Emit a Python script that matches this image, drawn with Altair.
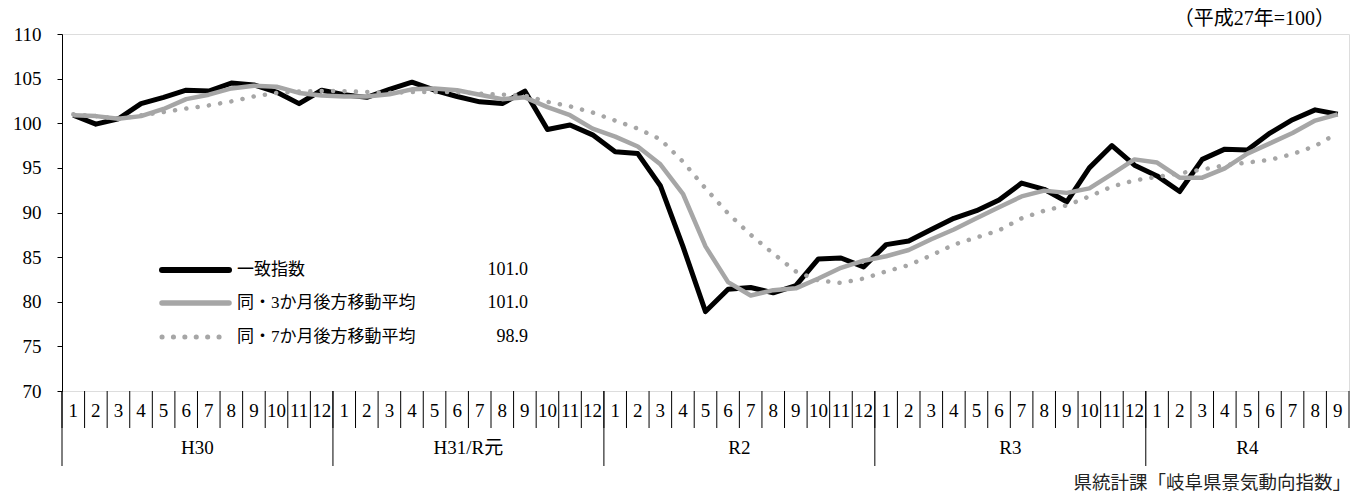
import altair as alt
import pandas as pd

# ---------------- data ----------------
years = ["H30", "H31/R元", "R2", "R3", "R4"]
year_months = [12, 12, 12, 12, 9]

coincident = [100.9, 99.9, 100.5, 102.2, 102.9, 103.7, 103.6, 104.5, 104.3, 103.5, 102.2, 103.7,
              103.2, 102.9, 103.8, 104.6, 103.7, 103.0, 102.4, 102.2, 103.6, 99.3, 99.8, 98.7,
              96.8, 96.6, 93.0, 86.2, 78.9, 81.4, 81.6, 81.0, 81.8, 84.8, 84.9, 83.9,
              86.4, 86.8, 88.1, 89.35, 90.2, 91.4, 93.3, 92.6, 91.2, 95.0, 97.5, 95.3,
              94.1, 92.35, 95.95, 97.1, 97.0, 98.9, 100.4, 101.5, 101.0]

ma3 = [100.9, 100.8, 100.5, 100.8, 101.6, 102.7, 103.2, 103.9, 104.2, 104.1, 103.4, 103.1,
       103.0, 103.0, 103.25, 103.8, 103.9, 103.7, 103.2, 102.7, 102.9, 101.8, 100.9, 99.4,
       98.5, 97.4, 95.4, 92.1, 86.2, 82.2, 80.7, 81.3, 81.5, 82.6, 83.8, 84.6,
       85.1, 85.8, 87.0, 88.1, 89.35, 90.6, 91.8, 92.45, 92.2, 92.7, 94.3, 95.95,
       95.6, 93.9, 93.9, 94.95, 96.6, 97.75, 98.9, 100.3, 101.0]

ma7 = [101.0, 100.8, 100.5, 100.9, 101.25, 101.65, 102.0, 102.45, 103.0, 103.4, 103.55, 103.6,
       103.6, 103.5, 103.4, 103.5, 103.5, 103.5, 103.3, 103.2, 103.1, 102.4, 101.9, 101.2,
       100.3, 99.4, 98.2, 95.7, 92.7, 89.9, 87.5, 85.4, 83.4, 82.4, 82.1, 82.6,
       83.4, 84.1, 85.2, 86.4, 87.2, 88.0, 89.35, 90.2, 90.8, 91.8, 92.9, 93.6,
       94.0, 94.4, 94.8, 95.3, 95.6, 95.9, 96.55, 97.45, 98.9]

series_names = ["一致指数", "同・3か月後方移動平均", "同・7か月後方移動平均"]
latest_values = [101.0, 101.0, 98.9]
base_note = "（平成27年=100）"
source_note = "県統計課「岐阜県景気動向指数」"

# ---------------- tables ----------------
month_labels = [str(m) for n in year_months for m in range(1, n + 1)]
N = len(month_labels)

long_rows = []
for name, vals in zip(series_names, [coincident, ma3, ma7]):
    for i, v in enumerate(vals):
        long_rows.append({"idx": i, "series": name, "value": v})
long_df = pd.DataFrame(long_rows)

month_df = pd.DataFrame({"idx": list(range(N)), "label": month_labels})
bound_df = pd.DataFrame({"b": list(range(N + 1))})
starts = [sum(year_months[:k]) for k in range(len(years))]
year_df = pd.DataFrame({"year": years, "start": starts, "len": year_months})
legend_df = pd.DataFrame({"name": series_names, "latest": latest_values})

# ---------------- styles ----------------
SERIF = "'Liberation Serif', 'DejaVu Serif', 'Noto Sans CJK JP', serif"
SANS = "'Noto Sans CJK JP', sans-serif"
GRAY = "#A6A6A6"
W, H = 1287, 357

xscale = alt.Scale(domain=[0, N], nice=False, zero=False)
yscale = alt.Scale(domain=[70, 110], nice=False, zero=False)
yaxis = alt.Axis(values=list(range(70, 111, 5)), tickSize=5, labelPadding=16,
                 labelFontSize=19, labelFont=SERIF, labelColor="black",
                 domainColor="black", tickColor="black", grid=False, title=None)

X = alt.X("pos:Q", scale=xscale, axis=None)
Y = alt.Y("value:Q", scale=yscale, axis=yaxis)

def series_line(name, **mark):
    return (alt.Chart(long_df)
            .transform_filter(alt.datum.series == name)
            .transform_calculate(pos="datum.idx + 0.5")
            .mark_line(strokeJoin="round", **mark)
            .encode(x=X, y=Y))

line1 = series_line(series_names[0], color="black", strokeWidth=5)
line2 = series_line(series_names[1], color=GRAY, strokeWidth=4.5)
line3 = series_line(series_names[2], color=GRAY, strokeWidth=4.5,
                    strokeDash=[0.1, 11.3], strokeCap="round")

month_text = (alt.Chart(month_df)
              .transform_calculate(pos="datum.idx + 0.5")
              .mark_text(font=SERIF, fontSize=19, baseline="middle", color="black")
              .encode(x=X, y=alt.value(377), text="label:N"))

month_rules = (alt.Chart(bound_df)
               .mark_rule(color="black", strokeWidth=1)
               .encode(x=alt.X("b:Q", scale=xscale, axis=None),
                       y=alt.value(H), y2=alt.value(394)))

year_rules = (alt.Chart(year_df)
              .mark_rule(color="black", strokeWidth=1)
              .encode(x=alt.X("start:Q", scale=xscale, axis=None),
                      y=alt.value(H), y2=alt.value(432)))

year_text = (alt.Chart(year_df)
             .transform_calculate(pos="datum.start + datum.len / 2")
             .mark_text(font=SERIF, fontSize=19, baseline="middle", color="black")
             .encode(x=X, y=alt.value(414), text="year:N"))

# ---------------- legend (inside plot) ----------------
def legend_entry(k, row_y, **mark):
    base = alt.Chart(legend_df).transform_filter(alt.datum.name == series_names[k])
    sample = base.mark_rule(**mark).encode(x=alt.value(100), x2=alt.value(167), y=alt.value(row_y))
    label = base.mark_text(align="left", baseline="middle", font=SERIF, fontSize=17,
                           color="black").encode(x=alt.value(175), y=alt.value(row_y), text="name:N")
    value = base.mark_text(align="right", baseline="middle", font=SERIF, fontSize=18,
                           color="black").encode(x=alt.value(466), y=alt.value(row_y),
                                                 text=alt.Text("latest:Q", format=".1f"))
    return [sample, label, value]

leg = []
leg += legend_entry(0, 236, color="black", strokeWidth=6, strokeCap="round")
leg += legend_entry(1, 269, color=GRAY, strokeWidth=5.5, strokeCap="round")
leg += legend_entry(2, 303, color=GRAY, strokeWidth=5, strokeCap="round", strokeDash=[0.1, 11.3])

note_top = (alt.Chart(pd.DataFrame({"t": [base_note]}))
            .mark_text(align="right", baseline="middle", font=SERIF, fontSize=20, color="black")
            .encode(x=alt.value(1273), y=alt.value(-15), text="t:N"))

note_src = (alt.Chart(pd.DataFrame({"t": [source_note]}))
            .mark_text(align="right", baseline="middle", font=SANS, fontSize=18.5, color="#222222")
            .encode(x=alt.value(1289), y=alt.value(449), text="t:N"))

chart = alt.layer(line1, line2, line3, month_rules, year_rules, month_text, year_text,
                  *leg, note_top, note_src).properties(
    width=W, height=H,
    autosize=alt.AutoSizeParams(type="none"),
    padding={"left": 54, "top": 26, "right": 2, "bottom": 103},
).configure_view(stroke="#333333", strokeWidth=1).configure(background="white")

chart.save("out.html", embed_options={"renderer": "svg", "actions": False})
